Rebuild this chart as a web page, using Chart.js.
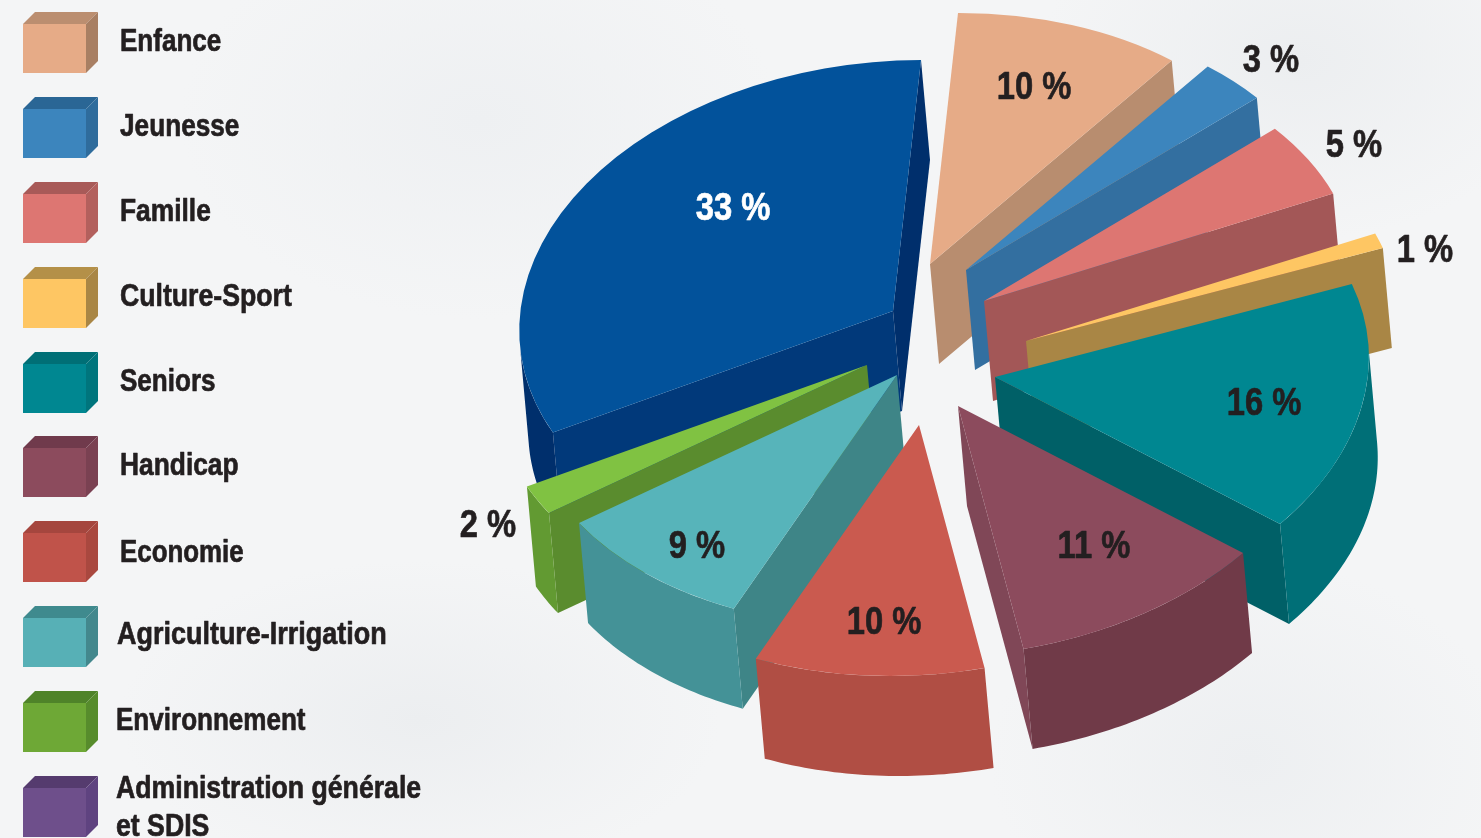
<!DOCTYPE html>
<html lang="fr"><head><meta charset="utf-8">
<title>Répartition</title>
<style>
html,body{margin:0;padding:0;width:1481px;height:838px;overflow:hidden;
background:
 radial-gradient(ellipse 260px 180px at 1300px 60px,#eceef0 0,rgba(236,238,240,0) 100%),
 radial-gradient(ellipse 300px 200px at 480px 120px,#eef0f2 0,rgba(238,240,242,0) 100%),
 radial-gradient(ellipse 300px 160px at 420px 720px,#eceef0 0,rgba(236,238,240,0) 100%),
 radial-gradient(ellipse 260px 200px at 1250px 760px,#edeff1 0,rgba(237,239,241,0) 100%),
 #f4f5f6;}
canvas{position:absolute;left:0;top:0}
</style>
<script src="https://cdn.jsdelivr.net/npm/chart.js@4/dist/chart.umd.min.js"></script>
</head><body>
<canvas id="c" width="1481" height="838"></canvas>
<script>
// ---- data
const categories = ["Enfance","Jeunesse","Famille","Culture-Sport","Seniors","Handicap","Economie","Agriculture-Irrigation","Environnement","Administration générale et SDIS"];
const values = [10,3,5,1,16,11,10,9,2,33];
// ---- slice styling
const topColors  = ["#e6ab87","#3c85bd","#dd7672","#fec663","#008791","#8c4b5d","#ca5a4f","#57b4ba","#80c242","#02529b"];
const startWall  = ["#b88d6f","#336fa0","#a35757","#a98645","#006067","#703a48","#b04e44","#3e8587","#5a8c2e","#01397a"];
const endWall    = ["#b88d6f","#336fa0","#a35757","#a98645","#006067","#804757","#b04e44","#3e8587","#5a8c2e","#002f6c"];
const rimColors  = ["#b88d6f","#336fa0","#a35757","#a98645","#006f77","#703a48","#b04e44","#449297","#629a32","#002f6c"];
const explodeX = [-20,16,34,76,45,8,-31,-53,-83,-57];
const explodeY = [-76,-70,-39,1,37,66,85,35,25,-29];
const paintOrder = [9,0,1,2,3,4,8,7,6,5];
// ---- percent label styling
const pctX = [1034,1271,1354,1425,1264,1094,884,697,488,733];
const pctY = [88,61,146,251,404,547,623,547,526,209];
const pctColor = ["#231f20","#231f20","#231f20","#231f20","#231f20","#231f20","#231f20","#231f20","#231f20","#ffffff"];
// ---- legend styling
const legendTop = [24,109,194,279,364,448,533,618,703,788];
const legendFront = ["#e6ab87","#3c85bd","#dd7672","#fec663","#008791","#8c4b5d","#c0534a","#57b0b6","#6ea836","#6e4f8b"];
const legendRoof  = ["#bb8e70","#2a6695","#a85a58","#b49048","#006f76","#703a4c","#a5463e","#3f8a8e","#4f8329","#553b6e"];
const legendSide  = ["#a87f63","#2f6c9c","#b3605d","#a98645","#00757d","#7a4152","#a9483f","#43888d","#578c2c","#5f4380"];
const legendTextX = [120,120,120,120,120,120,120,117,116,116];
const legendTextY = [42,127,212,297,382,466,553,635,721,789];
const legendScale = [0.84,0.845,0.85,0.86,0.84,0.85,0.835,0.87,0.84,0.86];
const legendLines = [["Enfance"],["Jeunesse"],["Famille"],["Culture-Sport"],["Seniors"],["Handicap"],["Economie"],["Agriculture-Irrigation"],["Environnement"],["Administration générale","et SDIS"]];

const axisX = [372.7,-0.7], axisY = [-28,251];   // projection of the pie's disc
const depth = [9,100];
const narrow = 0.84;

function drawText(ctx,str,x,y,font,color,align,sx){
  ctx.save();
  ctx.font=font; ctx.fillStyle=color; ctx.strokeStyle=color; ctx.lineWidth=0.7; ctx.lineJoin='round';
  ctx.textAlign=align; ctx.textBaseline='middle';
  ctx.translate(x,y); ctx.scale(sx,1);
  ctx.fillText(str,0,0); ctx.strokeText(str,0,0);
  ctx.restore();
}
function poly(ctx,pts,color){
  ctx.fillStyle=color; ctx.beginPath();
  pts.forEach((p,k)=>k?ctx.lineTo(p[0],p[1]):ctx.moveTo(p[0],p[1]));
  ctx.closePath(); ctx.fill();
}
const cross=(u,v)=>u[0]*v[1]-u[1]*v[0];
const pie3d = {
  id:'pie3d',
  beforeDatasetsDraw(chart){
    const ctx=chart.ctx, arcs=chart.getDatasetMeta(0).data;
    paintOrder.forEach(i=>{
      const arc=arcs[i], R=arc.outerRadius;
      const ax=arc.x+explodeX[i], ay=arc.y+explodeY[i];
      const at=t=>[ax+axisX[0]*Math.cos(t)+axisY[0]*Math.sin(t), ay+axisX[1]*Math.cos(t)+axisY[1]*Math.sin(t)];
      const down=p=>[p[0]+depth[0],p[1]+depth[1]];
      const A=[ax,ay], S=at(arc.startAngle), E=at(arc.endAngle), M=at((arc.startAngle+arc.endAngle)/2);
      const rel=p=>[p[0]-ax,p[1]-ay];
      // radial walls: only where the extrusion leaves the top face
      if(cross(rel(S),depth)*cross(rel(S),rel(M))<0) poly(ctx,[A,S,down(S),down(A)],startWall[i]);
      if(cross(rel(E),depth)*cross(rel(E),rel(M))<0) poly(ctx,[A,E,down(E),down(A)],endWall[i]);
      // rim: union of the facing strips along the arc element's angles
      const n=Math.max(4,Math.ceil((arc.endAngle-arc.startAngle)*60));
      ctx.fillStyle=rimColors[i]; ctx.beginPath();
      for(let k=0;k<n;k++){
        const p=at(arc.startAngle+(arc.endAngle-arc.startAngle)*k/n);
        const q=at(arc.startAngle+(arc.endAngle-arc.startAngle)*(k+1)/n);
        if(cross([q[0]-p[0],q[1]-p[1]],depth)>=0) continue;
        const dq=down(q), dp=down(p);
        ctx.moveTo(p[0],p[1]);ctx.lineTo(q[0],q[1]);ctx.lineTo(dq[0],dq[1]);ctx.lineTo(dp[0],dp[1]);ctx.closePath();
      }
      ctx.fill();
      // top face: the library's arc under the disc projection
      const a=axisX[0]/R,b=axisX[1]/R,c=axisY[0]/R,d=axisY[1]/R;
      ctx.save();
      ctx.transform(a,b,c,d,ax-a*arc.x-c*arc.y,ay-b*arc.x-d*arc.y);
      arc.draw(ctx);
      ctx.restore();
    });
    values.forEach((v,i)=>drawText(ctx,v+' %',pctX[i],pctY[i],'bold 39px "Liberation Sans"',pctColor[i],'center',narrow));
    // legend
    legendTop.forEach((y,i)=>{
      const x=23,w=63,h=49,o=12;
      poly(ctx,[[x,y],[x+o,y-o],[x+w+o,y-o],[x+w,y]],legendRoof[i]);
      poly(ctx,[[x+w,y],[x+w+o,y-o],[x+w+o,y+h-o],[x+w,y+h]],legendSide[i]);
      ctx.fillStyle=legendFront[i];
      ctx.fillRect(x,y,w,h);
      legendLines[i].forEach((t,j)=>drawText(ctx,t,legendTextX[i],legendTextY[i]+j*38,'bold 31px "Liberation Sans"','#231f20','left',legendScale[i]));
    });
    return false;
  }
};
new Chart(document.getElementById('c'),{
  type:'pie',
  data:{labels:categories,datasets:[{data:values,backgroundColor:topColors,borderWidth:0}]},
  options:{
    responsive:false,animation:false,events:[],rotation:0,
    layout:{padding:{left:419,bottom:158}},
    plugins:{legend:{display:false},tooltip:{enabled:false}}
  },
  plugins:[pie3d]
});
</script>
</body></html>
